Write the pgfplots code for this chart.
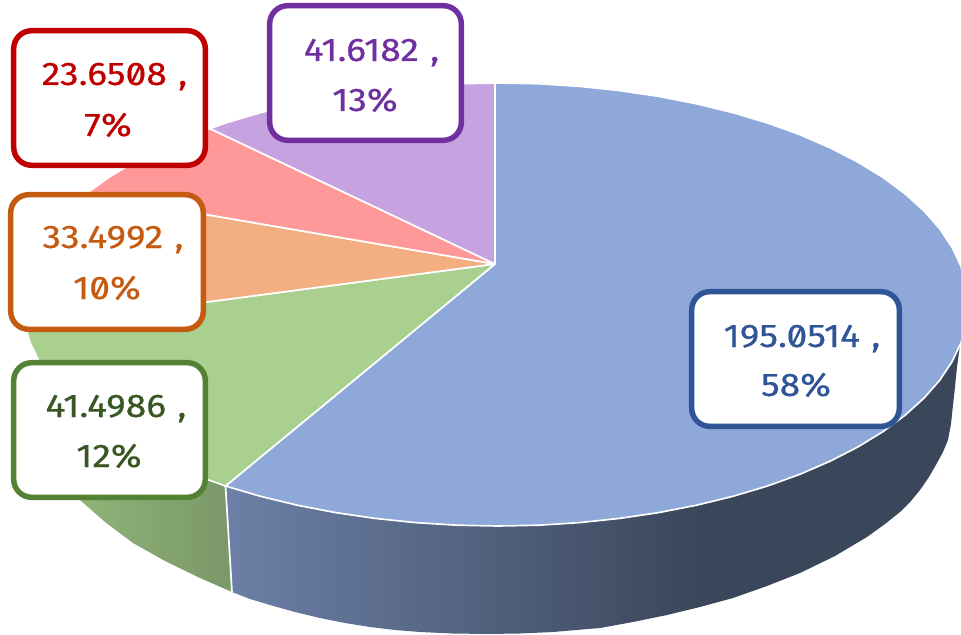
\documentclass[border=0pt]{standalone}
\usepackage{fontspec}
\setmainfont[Numbers=SlashedZero,FakeStretch=1.14,FakeBold=0.5]{Fira Sans}
\usepackage{pgfplots}
\pgfplotsset{compat=1.18}
\definecolor{blueTop}{RGB}{142,168,217}
\definecolor{greenTop}{RGB}{169,208,142}
\definecolor{orangeTop}{RGB}{243,175,130}
\definecolor{pinkTop}{RGB}{255,153,153}
\definecolor{purpleTop}{RGB}{198,162,224}
\definecolor{blueA}{RGB}{108,128,167}
\definecolor{blueB}{RGB}{58,70,90}
\definecolor{greenA}{RGB}{150,188,125}
\definecolor{greenB}{RGB}{122,152,104}
\definecolor{cRed}{RGB}{192,0,0}
\definecolor{cOrange}{RGB}{197,90,17}
\definecolor{cGreen}{RGB}{84,130,53}
\definecolor{tGreen}{RGB}{56,87,35}
\definecolor{cPurple}{RGB}{112,48,160}
\definecolor{cBlue}{RGB}{47,85,151}
\pgfdeclarehorizontalshading{blueside}{100bp}{color(0bp)=(blueA); color(25bp)=(blueA); color(57.3bp)=(blueB); color(100bp)=(blueB)}
\newcommand{\lab}[5]{%
  \draw[draw=#5,line width=4.1pt,fill=white,rounded corners=13.5pt]
    (axis cs:#1,#2) rectangle (axis cs:#3,#4);}
\newcommand{\txt}[4]{\node[anchor=base,inner sep=0pt,text=#3,font=\fontsize{24.5}{26}\selectfont] at (axis cs:#1,#2) {#4};}
\begin{document}
\begin{tikzpicture}
\path[use as bounding box] (0,0) rectangle (720.75pt,476.25pt);
\begin{axis}[
  at={(0,0)},anchor=south west,
  scale only axis,width=720.75pt,height=476.25pt,
  xmin=0,xmax=961,ymin=0,ymax=635,y dir=reverse,
  hide axis,clip=true,clip mode=individual]
% side faces
\addplot[draw=none,shading=blueside] coordinates {
 (225.5,486)(232,592)(250,599)(270,605)(295,612)(320,618)(345,623)(370,627)(395,630)(420,632)(453,633.5)(487,634)(520,633.5)(553,632)(600,628)(633,622)(667,615)(700,607)(733,598)(767,586)(800,573)(835,556)(867,537)(885,524)(900,512)(911,501)(920,490)(929,477)(937,463)(943,452)(948,440)(951,424)(953,405)(955,387)(957,367)(960,345)(961,338)(900,300)(225.5,486)};
\addplot[draw=none,left color=greenA,right color=greenB] coordinates {
 (225.5,486)(232,592)(200,578)(165,561)(133,543)(105,522)(80,500)(60,470)(45,420)(38,360)(28,337)(25,326)(225.5,400)(225.5,486)};
\addplot[draw=white,line width=1.3pt] coordinates {(225.5,486)(232,592)};
% top faces
\addplot[draw=white,line width=1.25pt,fill=blueTop] coordinates {
 (495,264)(495,83)(498,83)(539,83.8)(579.6,86.4)(619.6,90.6)(658.7,96.4)(696.6,103.8)(733,112.7)(767.6,123)(800.1,134.8)(830.3,147.9)(858,162.1)(883,177.4)(905,193.8)(924,210.9)(939.7,228.7)(952,247.2)(960.9,266)(966.2,285.2)(968,304.5)(966.2,323.8)(960.9,343)(952,361.8)(939.7,380.3)(924,398.1)(905,415.3)(883,431.6)(858,446.9)(830.3,461.1)(800.1,474.2)(767.6,486)(733,496.3)(696.6,505.2)(658.7,512.6)(619.6,518.4)(579.6,522.6)(539,525.2)(498,526)(456.6,525.2)(415.5,522.6)(375.1,518.4)(335.5,512.6)(297.3,505.2)(260.5,496.3)(225.5,486)(495,264)};
\addplot[draw=white,line width=1.25pt,fill=greenTop] coordinates {
 (495,264)(225.5,486)(192.7,474.2)(162.1,461.1)(134.1,446.9)(108.9,431.6)(86.6,415.3)(67.5,398.1)(51.6,380.3)(39.2,361.8)(30.2,343)(25,326)(495,264)};
\addplot[draw=white,line width=1.25pt,fill=orangeTop] coordinates {
 (495,264)(25,326)(24.8,323.8)(23,304.5)(24.8,285.2)(30.2,266)(39.2,247.2)(51.6,228.7)(67.5,210.9)(86,194)(495,264)};
\addplot[draw=white,line width=1.25pt,fill=pinkTop] coordinates {
 (495,264)(86,194)(108.9,177.4)(134.1,162.1)(162.1,147.9)(192.7,134.8)(210,128.6)(495,264)};
\addplot[draw=white,line width=1.25pt,fill=purpleTop] coordinates {
 (495,264)(210,128.6)(225.5,123)(260.5,112.7)(297.3,103.8)(335.5,96.4)(375.1,90.6)(415.5,86.4)(456.6,83.8)(495,83)(495,264)};
% label boxes
\lab{13.7}{30.7}{205.3}{165.3}{cRed}
\lab{10.7}{194.7}{203.3}{329.3}{cOrange}
\lab{13.7}{362.7}{205.3}{497.3}{cGreen}
\lab{269.7}{5.7}{461.3}{140.3}{cPurple}
\lab{691.7}{291.7}{899.3}{426.3}{cBlue}
\txt{114.5}{85}{cRed}{23.6508\hspace{.35em},}
\txt{108}{136}{cRed}{7\%}
\txt{113}{248}{cOrange}{33.4992\hspace{.35em},}
\txt{107}{299}{cOrange}{10\%}
\txt{116}{417}{tGreen}{41.4986\hspace{.35em},}
\txt{109}{467}{tGreen}{12\%}
\txt{371.5}{61}{cPurple}{41.6182\hspace{.35em},}
\txt{365}{111}{cPurple}{13\%}
\txt{802}{347}{cBlue}{195.0514\hspace{.35em},}
\txt{796}{396}{cBlue}{58\%}
\end{axis}
\end{tikzpicture}
\end{document}
